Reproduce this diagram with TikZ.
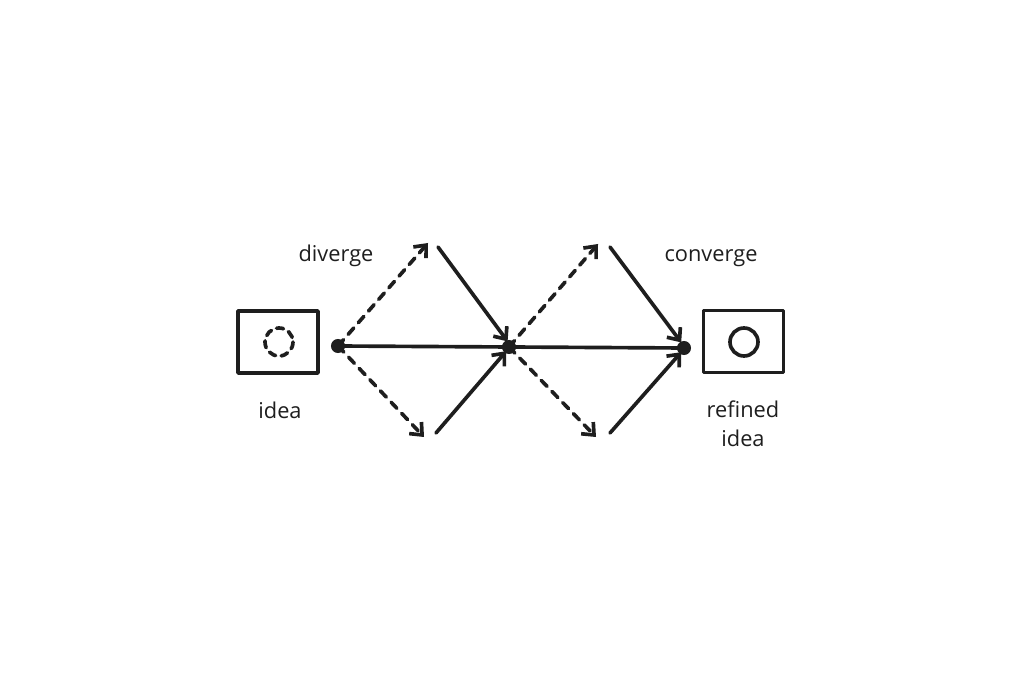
\documentclass[tikz,border=0pt]{standalone}
\usepackage{fontspec}
\setmainfont{Open Sans}
\usetikzlibrary{arrows.meta}

\tikzset{
  sketch/.style={line width=2.6pt, draw={rgb,255:red,30;green,30;blue,30}, line cap=round, line join=round},
  tip/.style={-{Straight Barb[length=7pt, width=12pt, line width=2.6pt]}},
  dot/.style={circle, fill={rgb,255:red,30;green,30;blue,30}, inner sep=0, minimum size=10pt},
  card/.style={sketch, shape=rectangle, inner sep=0, minimum width=2cm, minimum height=1.55cm},
  lbl/.style={font=\fontsize{15.5}{19}\selectfont, text={rgb,255:red,30;green,30;blue,30}, align=center}
}

\begin{document}
\begin{tikzpicture}[x=0.025cm, y=-0.025cm]
	\useasboundingbox (0, 0) rectangle (1022, 681);
	% Boxes and dots:
	\node[card] (Idea) at (278, 342) {};
	\draw[sketch, dash pattern=on 5pt off 4pt] (279, 342) circle (14);
	\node[card] (Refined) at (743.5, 341.5) {};
	\draw[sketch] (744, 342) circle (14);
	\node[dot] (D1) at (338, 346) {};
	\node[dot] (D2) at (509, 347) {};
	\node[dot] (D3) at (684, 348) {};
	% Tips and tails of the arrows:
	\coordinate (T1) at (428, 243);
	\coordinate (T2) at (424, 437);
	\coordinate (S1) at (438, 247);
	\coordinate (S2) at (436, 433);
	\coordinate (T3) at (598, 244);
	\coordinate (T4) at (596, 437);
	\coordinate (S3) at (610, 247);
	\coordinate (S4) at (610, 433);
	% Paths:
	\draw[sketch] (D1.center) -- (D3.center);
	\draw[sketch, tip, dash pattern=on 6pt off 5pt] (D1.center) -- (T1);
	\draw[sketch, tip, dash pattern=on 6pt off 5pt] (D1.center) -- (T2);
	\draw[sketch, tip] (S1) -- ([xshift=-1pt, yshift=4pt]D2.center);
	\draw[sketch, tip] (S2) -- ([xshift=-2pt, yshift=-3pt]D2.center);
	\draw[sketch, tip, dash pattern=on 6pt off 5pt] (D2.center) -- (T3);
	\draw[sketch, tip, dash pattern=on 6pt off 5pt] (D2.center) -- (T4);
	\draw[sketch, tip] (S3) -- ([xshift=-2pt, yshift=4pt]D3.center);
	\draw[sketch, tip] (S4) -- ([xshift=-2pt, yshift=-3pt]D3.center);
	% Labels:
	\node[lbl] (Diverge) at (336, 256) {diverge};
	\node[lbl] (Converge) at (711, 258) {converge};
	\node[lbl] (IdeaTxt) at (280, 410) {idea};
	\node[lbl, align=center] (RefinedTxt) at (743, 424) {refined\\[2pt]idea};
\end{tikzpicture}
\end{document}
